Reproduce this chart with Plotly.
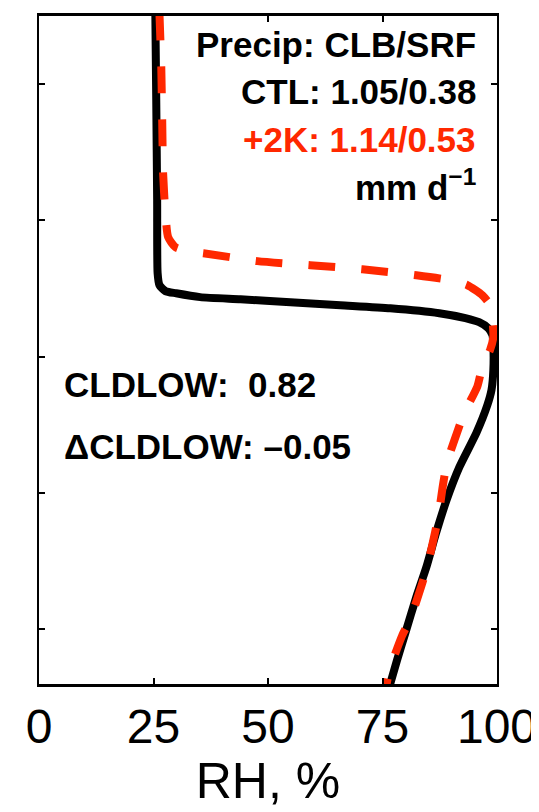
import plotly.graph_objects as go

# Height coordinate (arbitrary units, axis unlabeled)
ctl_z = [2.76, 2.44, 2.074, 1.807, 1.763, 1.741, 1.733, 1.719, 1.711, 1.700, 1.689, 1.678,
         1.660, 1.642, 1.627, 1.605, 1.580, 1.543, 1.451, 1.378, 1.323, 1.221, 1.096,
         0.975, 0.854, 0.730, 0.620, 0.488, 0.389, 0.29]
ctl_rh = [25.4, 25.6, 25.8, 25.9, 26.3, 27.6, 29.95, 35.2, 44.0, 54.9, 65.8, 76.7,
          87.4, 93.1, 96.1, 98.1, 99.0, 99.2, 99.2, 98.8, 97.9, 95.5, 91.8,
          89.0, 86.7, 84.6, 82.4, 80.0, 78.2, 76.5]

p2k_z = [2.76, 2.561, 2.367, 2.173, 2.027, 1.939, 1.902, 1.884, 1.880, 1.851, 1.836, 1.821,
         1.799, 1.781, 1.763, 1.726, 1.690, 1.635, 1.573, 1.526, 1.464, 1.391, 1.296,
         1.223, 1.113, 1.040, 0.916, 0.858, 0.733, 0.660, 0.540, 0.478, 0.389, 0.334, 0.29]
p2k_rh = [26.3, 26.7, 26.9, 27.1, 27.6, 28.2, 29.8, 33.7, 35.9, 47.7, 59.2, 70.6,
          82.4, 89.8, 93.5, 96.8, 98.5, 99.0, 99.2, 98.5, 96.8, 95.7, 92.9,
          91.3, 89.1, 88.3, 87.2, 86.5, 84.8, 83.5, 81.1, 79.3, 77.3, 76.3, 75.8]

x_ticks = [0, 25, 50, 75, 100]
y_ticks = [0.5, 1.0, 1.5, 2.0, 2.5]

RED = "rgb(255,40,0)"
FONT = "Liberation Sans, Arial, Helvetica, sans-serif"

fig = go.Figure()
fig.add_trace(go.Scatter(x=ctl_rh, y=ctl_z, mode="lines", line=dict(color="black", width=8, shape="spline", smoothing=0.6), showlegend=False))
fig.add_trace(go.Scatter(x=p2k_rh, y=p2k_z, mode="lines", line=dict(color=RED, width=8, dash="27px,26px", shape="spline", smoothing=0.6), showlegend=False))

ann_right = [
    ("<b>Precip: CLB/SRF</b>", "black", 2.645),
    ("<b>CTL: 1.05/0.38</b>", "black", 2.472),
    ("<b>+2K: 1.14/0.53</b>", RED, 2.296),
    ("<b>mm d<sup>−1</sup></b>", "black", 2.130),
]
for txt, col, yy in ann_right:
    fig.add_annotation(x=95.8, y=yy, xref="x", yref="y", text=txt, showarrow=False,
                       xanchor="right", yanchor="middle", font=dict(family=FONT, size=35, color=col))

fig.add_annotation(x=5.0, y=1.40, xref="x", yref="y", text="<b>CLDLOW:  0.82</b>", showarrow=False,
                   xanchor="left", yanchor="middle", font=dict(family=FONT, size=35, color="black"))
fig.add_annotation(x=5.0, y=1.17, xref="x", yref="y", text="<b>ΔCLDLOW: –0.05</b>", showarrow=False,
                   xanchor="left", yanchor="middle", font=dict(family=FONT, size=35, color="black"))

# page body has an 8px default margin; margins compensate so the axes land where the reference has them
fig.update_layout(
    width=539, height=812,
    margin=dict(l=31, r=50, t=8, b=136, pad=0, autoexpand=False),
    paper_bgcolor="white", plot_bgcolor="white",
    font=dict(family=FONT, color="black"),
    showlegend=False,
)
fig.update_xaxes(range=[0, 100], tickvals=x_ticks, ticktext=[str(v) for v in x_ticks],
                 ticks="inside", ticklen=6, tickwidth=2, tickcolor="black",
                 showline=True, linecolor="black", linewidth=3, mirror="ticks",
                 showgrid=False, zeroline=False, automargin=False, ticklabelstandoff=-2,
                 tickfont=dict(family=FONT, size=48, color="black"),
                 title=dict(text="RH, %", font=dict(family=FONT, size=50, color="black"), standoff=12))
fig.update_yaxes(range=[0.3, 2.75], tickvals=y_ticks, showticklabels=False,
                 ticks="inside", ticklen=6, tickwidth=2, tickcolor="black",
                 showline=True, linecolor="black", linewidth=2, mirror="ticks",
                 showgrid=False, zeroline=False, automargin=False)

fig.write_html("out.html")
